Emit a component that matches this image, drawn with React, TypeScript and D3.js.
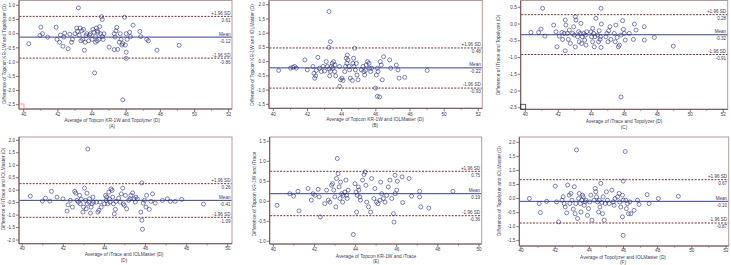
import React from 'react';
import * as d3 from 'd3';

type Pt = [number, number];

const panelLetters = ['A', 'B', 'C', 'D', 'E', 'F'];

const xTitles = [
  'Average of Topcon KR-1W and Topolyzer (D)',
  'Average of Topcon KR-1W and IOLMaster (D)',
  'Average of iTrace and Topolyzer (D)',
  'Average of iTrace and IOLMaster (D)',
  'Average of Topcon KR-1W and iTrace',
  'Average of Topolyzer and IOLMaster (D)',
];

const yTitles = [
  'Difference of Topcon KR-1W and Topolyzer (D)',
  'Difference of Topcon KR-1W and IOLMaster (D)',
  'Difference of iTrace and Topolyzer (D)',
  'Difference of iTrace and IOLMaster (D)',
  'Difference of Topcon KR-1W and iTrace',
  'Difference of Topolyzer and IOLMaster (D)',
];

const upperLimits = [0.61, 0.48, 0.28, 0.26, 0.75, 0.67];
const meanDiffs = [-0.12, -0.22, -0.32, -0.41, 0.19, -0.10];
const lowerLimits = [-0.86, -0.93, -0.91, -1.09, -0.36, -0.87];
const upperText = ['0.61', '0.48', '0.28', '0.26', '0.75', '0.67'];
const meanText = ['-0.12', '-0.22', '-0.32', '-0.41', '0.19', '-0.10'];
const lowerText = ['-0.86', '-0.93', '-0.91', '-1.09', '-0.36', '-0.87'];

const xTicksWide = [40, 42, 44, 46, 48, 50, 52];
const xTicksNarrow = [40, 42, 44, 46, 48, 50];
const xTickSets = [xTicksWide, xTicksWide, xTicksWide, xTicksNarrow, xTicksNarrow, xTicksWide];

const yTicksA = [1.0, 0.5, 0.0, -0.5, -1.0, -1.5, -2.0, -2.5];
const yTicksB = [2.0, 1.5, 1.0, 0.5, 0.0, -0.5, -1.0, -1.5];
const yTicksC = [0.5, 0.0, -0.5, -1.0, -1.5, -2.0, -2.5];
const yTicksD = [2.0, 1.5, 1.0, 0.5, 0.0, -0.5, -1.0, -1.5, -2.0];
const yTicksE = [1.5, 1.0, 0.5, 0.0, -0.5, -1.0];
const yTicksF = [2.0, 1.5, 1.0, 0.5, 0.0, -0.5, -1.0, -1.5];
const yTickSets = [yTicksA, yTicksB, yTicksC, yTicksD, yTicksE, yTicksF];

const pointsA: Pt[] = [
  [40.3, -0.35], [41.0, 0.23], [40.95, -0.06], [41.1, 0.0], [41.4, -0.12],
  [41.9, 0.23], [41.95, -0.2], [42.1, -0.3], [42.15, -0.05], [42.3, -0.44], [42.35, -0.12], [42.4, 0.02],
  [42.6, -0.53], [42.7, -0.02], [42.8, -0.3], [42.85, -0.2],
  [43.0, 0.0], [43.1, 0.2], [43.15, 0.08], [43.2, 0.91], [43.25, -0.05], [43.3, 0.2], [43.35, -0.25],
  [43.4, 0.1], [43.45, -0.2], [43.5, 0.15], [43.55, -0.58], [43.6, -0.3], [43.65, -0.07], [43.7, 0.0],
  [43.8, -0.25], [43.85, -0.05], [43.9, 0.0],
  [44.0, -0.2], [44.05, 0.15], [44.1, 0.05], [44.15, -1.38], [44.2, -0.1], [44.25, 0.2], [44.3, -0.25],
  [44.35, 0.05], [44.4, -0.2], [44.45, 0.25], [44.5, 0.0], [44.55, 0.6], [44.6, 0.5], [44.6, -0.1],
  [44.65, -0.2], [44.7, 0.0], [44.3, 0.1], [44.2, -0.3],
  [45.0, -0.47], [45.3, 0.0], [45.35, -0.12], [45.4, 0.1], [45.45, 0.22], [45.3, -0.56], [45.5, -0.55],
  [45.6, -0.3], [45.65, 0.0], [45.7, -0.2], [45.75, -0.4], [45.8, -0.35], [45.8, -2.33], [45.9, 0.58],
  [45.95, -0.4], [46.0, 0.0], [46.0, -0.65], [46.05, -0.2], [46.0, -0.87], [46.2, 0.05], [46.25, -0.1],
  [46.4, 0.3], [46.8, 0.08], [46.85, -0.1], [47.2, -0.2], [47.3, -0.25], [47.8, -0.58], [49.1, -0.41],
];

const pointsB: Pt[] = [
  [40.31, -0.31], [41.01, -0.23], [41.15, -0.2], [41.25, -0.17], [41.35, -0.23], [41.85, 0.06], [41.99, -0.29],
  [42.32, -0.17], [42.38, -0.41], [42.42, -0.58], [42.48, -0.5], [42.52, -0.31], [42.61, 0.15], [42.71, -0.23],
  [42.81, -0.35], [42.91, -0.17], [43.0, -0.33], [43.1, 0.0], [43.16, -0.17], [43.26, -0.26], [43.3, -0.5],
  [43.34, -0.35], [43.26, 1.76], [43.34, 0.7], [43.26, 0.5], [43.4, -0.17], [43.45, -0.06], [43.49, -0.23],
  [43.53, 0.0], [43.59, -0.35], [43.61, -0.12], [43.65, -0.5], [43.88, -0.17], [43.94, -0.64], [43.88, -0.87],
  [44.02, -0.58], [44.08, -0.66], [44.18, -0.35], [44.23, -0.17], [44.27, 0.12], [44.31, -0.06], [44.33, 0.23],
  [44.37, 0.06], [44.43, -0.17], [44.47, -0.29], [44.51, -0.58], [44.62, -0.66], [44.66, -0.06], [44.7, 0.12],
  [44.72, -0.17], [44.76, 0.47], [44.8, -0.29], [44.86, -0.06], [44.9, -0.47], [44.96, -0.64], [45.15, -0.29],
  [45.25, -0.17], [45.29, -0.35], [45.35, -0.47], [45.4, -0.31], [45.44, -0.12], [45.52, 0.0], [45.6, -0.06],
  [45.64, -0.23], [45.7, -0.35], [45.76, -0.23], [45.99, -0.93], [46.03, -0.47], [46.09, -0.23], [46.13, -0.35],
  [46.09, -1.22], [46.22, -1.24], [46.26, 0.0], [46.32, -0.12], [46.38, -0.64], [46.46, 0.17], [46.81, 0.06],
  [46.87, -0.23], [47.2, -0.12], [47.3, -0.29], [47.36, -0.58], [47.69, -0.55], [49.01, -0.31],
];

const pointsC: Pt[] = [
  [41.05, 0.47], [44.59, 0.47], [40.34, -0.25], [40.81, -0.25], [40.95, -0.15], [41.19, -0.36], [41.72, -0.03],
  [41.86, -0.23], [41.92, -0.68], [42.06, -0.36], [42.22, -0.25], [42.26, -0.46], [42.36, -0.28], [42.42, 0.12],
  [42.46, -0.03], [42.42, -0.8], [42.55, -0.28], [42.61, -0.46], [42.67, -0.18], [42.73, -0.58], [42.87, -0.28],
  [42.93, -0.08], [42.97, -0.33], [43.03, 0.22], [43.07, 0.12], [43.03, -0.68], [43.17, -0.38], [43.23, -0.23],
  [43.27, -0.53], [43.33, -0.28], [43.37, 0.02], [43.41, -0.58], [43.45, -0.38], [43.54, -0.28], [43.6, -0.48],
  [43.64, -0.33], [43.68, -0.63], [43.72, -0.23], [43.98, -0.23], [44.02, -0.38], [44.08, -0.53], [44.08, -0.13],
  [44.14, -0.28], [44.18, -0.68], [44.22, -0.38], [44.28, 0.17], [44.38, -0.33], [44.44, -0.53], [44.48, -0.2],
  [44.53, -0.46], [44.57, -0.38], [44.59, -0.7], [44.61, 0.0], [44.89, -0.38], [44.95, -0.28], [45.01, -0.53],
  [45.05, -0.2], [45.13, -0.08], [45.19, -0.46], [45.39, -0.28], [45.45, -0.53], [45.49, -0.03], [45.56, -0.4],
  [45.64, -0.68], [45.7, -0.63], [45.8, -2.18], [45.8, -0.33], [45.9, 0.1], [45.94, -0.16], [46.0, -0.28],
  [46.06, -0.48], [46.3, -0.28], [46.55, -0.46], [46.61, 0.0], [46.71, -0.18], [47.21, -0.08], [47.21, -0.48],
  [47.82, -0.4], [48.97, -0.66],
];

const pointsD: Pt[] = [
  [40.39, -0.24], [40.98, -0.44], [41.13, -0.32], [41.34, -0.44], [41.42, -0.05], [41.69, -0.28], [41.98, -0.35],
  [42.18, -0.84], [42.23, -0.59], [42.34, -0.41], [42.44, -0.68], [42.55, -0.05], [42.6, -0.12], [42.66, -0.41],
  [42.73, -0.48], [42.79, -0.21], [42.82, -0.55], [42.87, -0.37], [42.95, -0.88], [42.98, -0.68], [43.03, 0.08],
  [43.08, -0.41], [43.11, -0.75], [43.16, -0.55], [43.19, 1.65], [43.15, -0.12], [43.24, -0.48], [43.27, -0.35],
  [43.32, -0.92], [43.35, -0.68], [43.4, -0.55], [43.44, -0.28], [43.47, -0.48], [43.6, -0.48], [43.68, -0.88],
  [43.73, -0.81], [43.79, -0.48], [43.84, -0.68], [44.0, -0.55], [44.05, -0.21], [44.08, -0.41], [44.11, -0.28],
  [44.16, -0.55], [44.21, -0.08], [44.24, -0.35], [44.27, -0.48], [44.32, 0.05], [44.37, -0.01], [44.4, -0.28],
  [44.44, -0.55], [44.48, -0.95], [44.53, -0.77], [44.56, -0.45], [44.69, -0.32], [44.76, -0.48], [44.82, -0.15],
  [44.89, 0.08], [44.92, -0.55], [44.97, -0.61], [45.02, -0.21], [45.08, -0.75], [45.18, -0.41], [45.24, -0.35],
  [45.29, -0.21], [45.37, -0.11], [45.45, -0.35], [45.5, -0.48], [45.53, -0.28], [45.6, -0.35], [45.82, 0.29],
  [45.77, -0.88], [45.82, -1.21], [45.85, -1.57], [45.89, -0.52], [45.95, -0.41], [46.02, -0.68], [46.05, -0.21],
  [46.18, -0.77], [46.26, -0.45], [46.34, -0.15], [46.47, -0.52], [46.82, -0.41], [47.06, -0.35], [47.21, -0.45],
  [47.44, -0.45], [47.76, -0.37], [48.82, -0.56],
];

const pointsE: Pt[] = [
  [40.18, -0.1], [40.8, 0.19], [40.99, 0.13], [41.2, 0.25], [41.25, -0.24], [41.69, 0.32], [41.85, 0.03],
  [41.93, 0.19], [42.02, 0.15], [42.18, 0.3], [42.23, 0.11], [42.29, -0.39], [42.5, -0.06], [42.59, 0.28],
  [42.67, 0.03], [42.75, -0.02], [42.83, 0.4], [42.88, 0.44], [42.94, 0.28], [42.99, 0.11], [43.04, -0.14],
  [43.07, 0.57], [43.11, 1.07], [43.15, 0.69], [43.2, 0.36], [43.24, 0.07], [43.27, 0.48], [43.32, 0.19],
  [43.37, -0.02], [43.4, 0.15], [43.48, 0.23], [43.53, 0.53], [43.56, 0.15], [43.59, 0.07], [43.64, 0.28],
  [43.89, -0.83], [43.97, 0.44], [44.02, 0.23], [44.05, -0.27], [44.08, 0.15], [44.13, 0.36], [44.16, 0.28],
  [44.21, 0.11], [44.24, 0.03], [44.34, 0.53], [44.41, 0.67], [44.46, 0.73], [44.5, 0.4], [44.54, -0.02],
  [44.63, -0.14], [44.73, -0.27], [44.78, 0.57], [44.89, 0.07], [44.94, 0.32], [45.02, -0.02], [45.09, -0.06],
  [45.19, 0.03], [45.22, 0.48], [45.27, 0.19], [45.35, 0.07], [45.43, -0.02], [45.51, 0.15], [45.59, 0.36],
  [45.67, 0.53], [45.76, 0.07], [45.84, -0.31], [45.87, -0.52], [45.92, 0.19], [45.92, 0.65], [46.0, 0.28],
  [46.03, 0.5], [46.26, 0.61], [46.29, -0.03], [46.6, 0.57], [46.72, 0.13], [47.11, 0.25], [47.11, 0.11],
  [47.17, -0.14], [47.56, -0.17], [48.73, 0.25],
];

const pointsF: Pt[] = [
  [40.49, 0.0], [41.07, -0.18], [41.13, -0.5], [41.5, -0.1], [42.01, 0.44], [42.08, -0.12], [42.2, -0.83],
  [42.4, -0.06], [42.47, 0.06], [42.53, -0.18], [42.59, -0.3], [42.67, -0.51], [42.73, 0.48], [42.82, 0.12],
  [42.86, -0.18], [42.92, 0.18], [42.98, -0.06], [43.06, -0.38], [43.12, 0.42], [43.17, -0.54], [43.21, -0.18],
  [43.25, 1.73], [43.31, -0.71], [43.37, 0.0], [43.41, 0.18], [43.47, -0.18], [43.51, -0.48], [43.56, -0.06],
  [43.6, 0.12], [43.64, 0.06], [43.7, -0.24], [43.76, -0.12], [43.8, -0.06], [43.89, -0.6], [43.95, -0.36],
  [44.03, -0.12], [44.09, 0.12], [44.15, -0.77], [44.28, -0.06], [44.34, 0.36], [44.38, 0.24], [44.42, 0.06],
  [44.48, -0.12], [44.54, -0.48], [44.58, -0.06], [44.62, -0.3], [44.67, 0.54], [44.73, -0.14], [44.77, -0.54],
  [44.81, 0.06], [44.87, -0.77], [44.93, -0.18], [45.0, 0.24], [45.06, -0.06], [45.16, -0.18], [45.32, 0.3],
  [45.39, -0.12], [45.45, -0.24], [45.51, 0.0], [45.65, 0.06], [45.74, 0.18], [45.78, -0.12], [45.84, -0.3],
  [45.94, 0.12], [45.98, -0.06], [45.98, 0.62], [46.1, 1.67], [45.98, -1.31], [45.94, -0.65], [46.13, -0.06],
  [46.17, -0.36], [46.23, -0.18], [46.29, -0.54], [46.37, -0.12], [46.43, -0.54], [46.62, -0.42], [46.82, -0.06],
  [46.91, -0.21], [47.38, 0.14], [47.5, -0.18], [48.04, 0.0], [49.21, 0.08],
];

const pointSets = [pointsA, pointsB, pointsC, pointsD, pointsE, pointsF];

// Layout (pixel geometry of each panel)
const LAYOUT = [
  { frame: [19, 0.5, 232, 109], xr: [23.7, 228.7], yr: [5.3, 104.7], tickY: 116, xtX: 112, xtY: 121.6, letY: 127.6, ytX: 6, ytY: 54, corner: '#d98a8a' },
  { frame: [269, 0.5, 482.3, 108.3], xr: [273.3, 478.3], yr: [4.7, 104.3], tickY: 115.5, xtX: 375, xtY: 121.2, letY: 127.2, ytX: 254, ytY: 55, corner: null },
  { frame: [520.7, 0.5, 727.7, 109.3], xr: [525.3, 723.3], yr: [7.3, 107.7], tickY: 116, xtX: 624, xtY: 122.8, letY: 128.6, ytX: 499.5, ytY: 55, corner: '#333' },
  { frame: [19, 137, 232, 243.7], xr: [22.3, 227.7], yr: [140.3, 240], tickY: 250.4, xtX: 124, xtY: 256.2, letY: 261.9, ytX: 4.8, ytY: 189, corner: null },
  { frame: [269.7, 137, 481.7, 244], xr: [273.3, 479], yr: [141.3, 241.3], tickY: 250.8, xtX: 376, xtY: 257.5, letY: 263.2, ytX: 256, ytY: 194, corner: null },
  { frame: [519.3, 137, 728.7, 246], xr: [521, 726], yr: [142.3, 240.7], tickY: 251.5, xtX: 623, xtY: 258.6, letY: 264.3, ytX: 501.3, ytY: 191, corner: null },
];

const FONT = 'Liberation Sans, Arial, sans-serif';
const FRAME_COLOR = '#b49a9a';
const AXIS_COLOR = '#6e5050';
const TEXT_COLOR = '#3d3d55';
const POINT_COLOR = '#2a2f80';
const MEAN_COLOR = '#3a3f8e';
const SD_COLOR = '#6e3535';

function Panel({ i }: { i: number }) {
  const L = LAYOUT[i];
  const [fx0, fy0, fx1, fy1] = L.frame;
  const xt = xTickSets[i];
  const yt = yTickSets[i];
  const x = d3.scaleLinear().domain([xt[0], xt[xt.length - 1]]).range(L.xr as [number, number]);
  const y = d3.scaleLinear().domain([yt[0], yt[yt.length - 1]]).range(L.yr as [number, number]);
  const minor = d3.range(xt[0] + 1, xt[xt.length - 1], 2);
  const lines = [
    { v: upperLimits[i], lab: '+1.96 SD', txt: upperText[i], dash: '2,1.3', color: SD_COLOR },
    { v: meanDiffs[i], lab: 'Mean', txt: meanText[i], dash: undefined, color: MEAN_COLOR },
    { v: lowerLimits[i], lab: '-1.96 SD', txt: lowerText[i], dash: '2,1.3', color: SD_COLOR },
  ];
  return (
    <g fontFamily={FONT}>
      <rect x={fx0} y={fy0} width={fx1 - fx0} height={fy1 - fy0} fill="white" stroke={FRAME_COLOR} strokeWidth={1} />
      <line x1={fx0} x2={fx0} y1={fy0} y2={fy1} stroke={AXIS_COLOR} strokeWidth={1} />
      <line x1={fx0} x2={fx1} y1={fy1} y2={fy1} stroke={AXIS_COLOR} strokeWidth={1} />
      {L.corner && (
        <rect x={fx0} y={fy1 - 5} width={5} height={5} fill="none" stroke={L.corner} strokeWidth={0.8} />
      )}
      {yt.map((t) => (
        <g key={'y' + t}>
          <line x1={fx0 - 3} x2={fx0} y1={y(t)} y2={y(t)} stroke={AXIS_COLOR} strokeWidth={0.8} />
          <text x={fx0 - 4} y={y(t)} dy="0.35em" textAnchor="end" fontSize={4.6} fill={TEXT_COLOR}>
            {t.toFixed(1)}
          </text>
        </g>
      ))}
      {xt.map((t) => (
        <g key={'x' + t}>
          <line x1={x(t)} x2={x(t)} y1={fy1} y2={fy1 + 3} stroke={AXIS_COLOR} strokeWidth={0.8} />
          <text x={x(t)} y={L.tickY} textAnchor="middle" fontSize={4.6} fill={TEXT_COLOR}>
            {t}
          </text>
        </g>
      ))}
      {minor.map((t) => (
        <line key={'m' + t} x1={x(t)} x2={x(t)} y1={fy1} y2={fy1 + 1.8} stroke={AXIS_COLOR} strokeWidth={0.6} />
      ))}
      {lines.map((l) => (
        <g key={l.lab}>
          <line x1={fx0 + 0.5} x2={fx1 - 0.5} y1={y(l.v)} y2={y(l.v)} stroke={l.color} strokeWidth={1} strokeDasharray={l.dash} />
          <text x={fx1 - 1.5} y={y(l.v) - 1.6} textAnchor="end" fontSize={4.6} fill={TEXT_COLOR}>
            {l.lab}
          </text>
          <text x={fx1 - 1.5} y={y(l.v) + 5.4} textAnchor="end" fontSize={4.6} fill={TEXT_COLOR}>
            {l.txt}
          </text>
        </g>
      ))}
      {pointSets[i].map((p, k) => (
        <circle key={k} cx={x(p[0])} cy={y(p[1])} r={2} fill="none" stroke={POINT_COLOR} strokeWidth={0.6} />
      ))}
      <text x={L.xtX} y={L.xtY} textAnchor="middle" fontSize={4.8} fill={TEXT_COLOR}>
        {xTitles[i]}
      </text>
      <text x={L.xtX} y={L.letY} textAnchor="middle" fontSize={4.6} fill={TEXT_COLOR}>
        ({panelLetters[i]})
      </text>
      <text
        transform={`translate(${L.ytX},${L.ytY}) rotate(-90)`}
        textAnchor="middle"
        fontSize={4.8}
        fill={TEXT_COLOR}
      >
        {yTitles[i]}
      </text>
    </g>
  );
}

export default function App() {
  return (
    <svg
      width={731}
      height={265}
      viewBox="0 0 731 265"
      style={{ position: 'absolute', left: 0, top: 0, display: 'block', background: 'white' }}
    >
      <rect x={0} y={0} width={731} height={265} fill="white" />
      {panelLetters.map((_, i) => (
        <Panel key={i} i={i} />
      ))}
    </svg>
  );
}
